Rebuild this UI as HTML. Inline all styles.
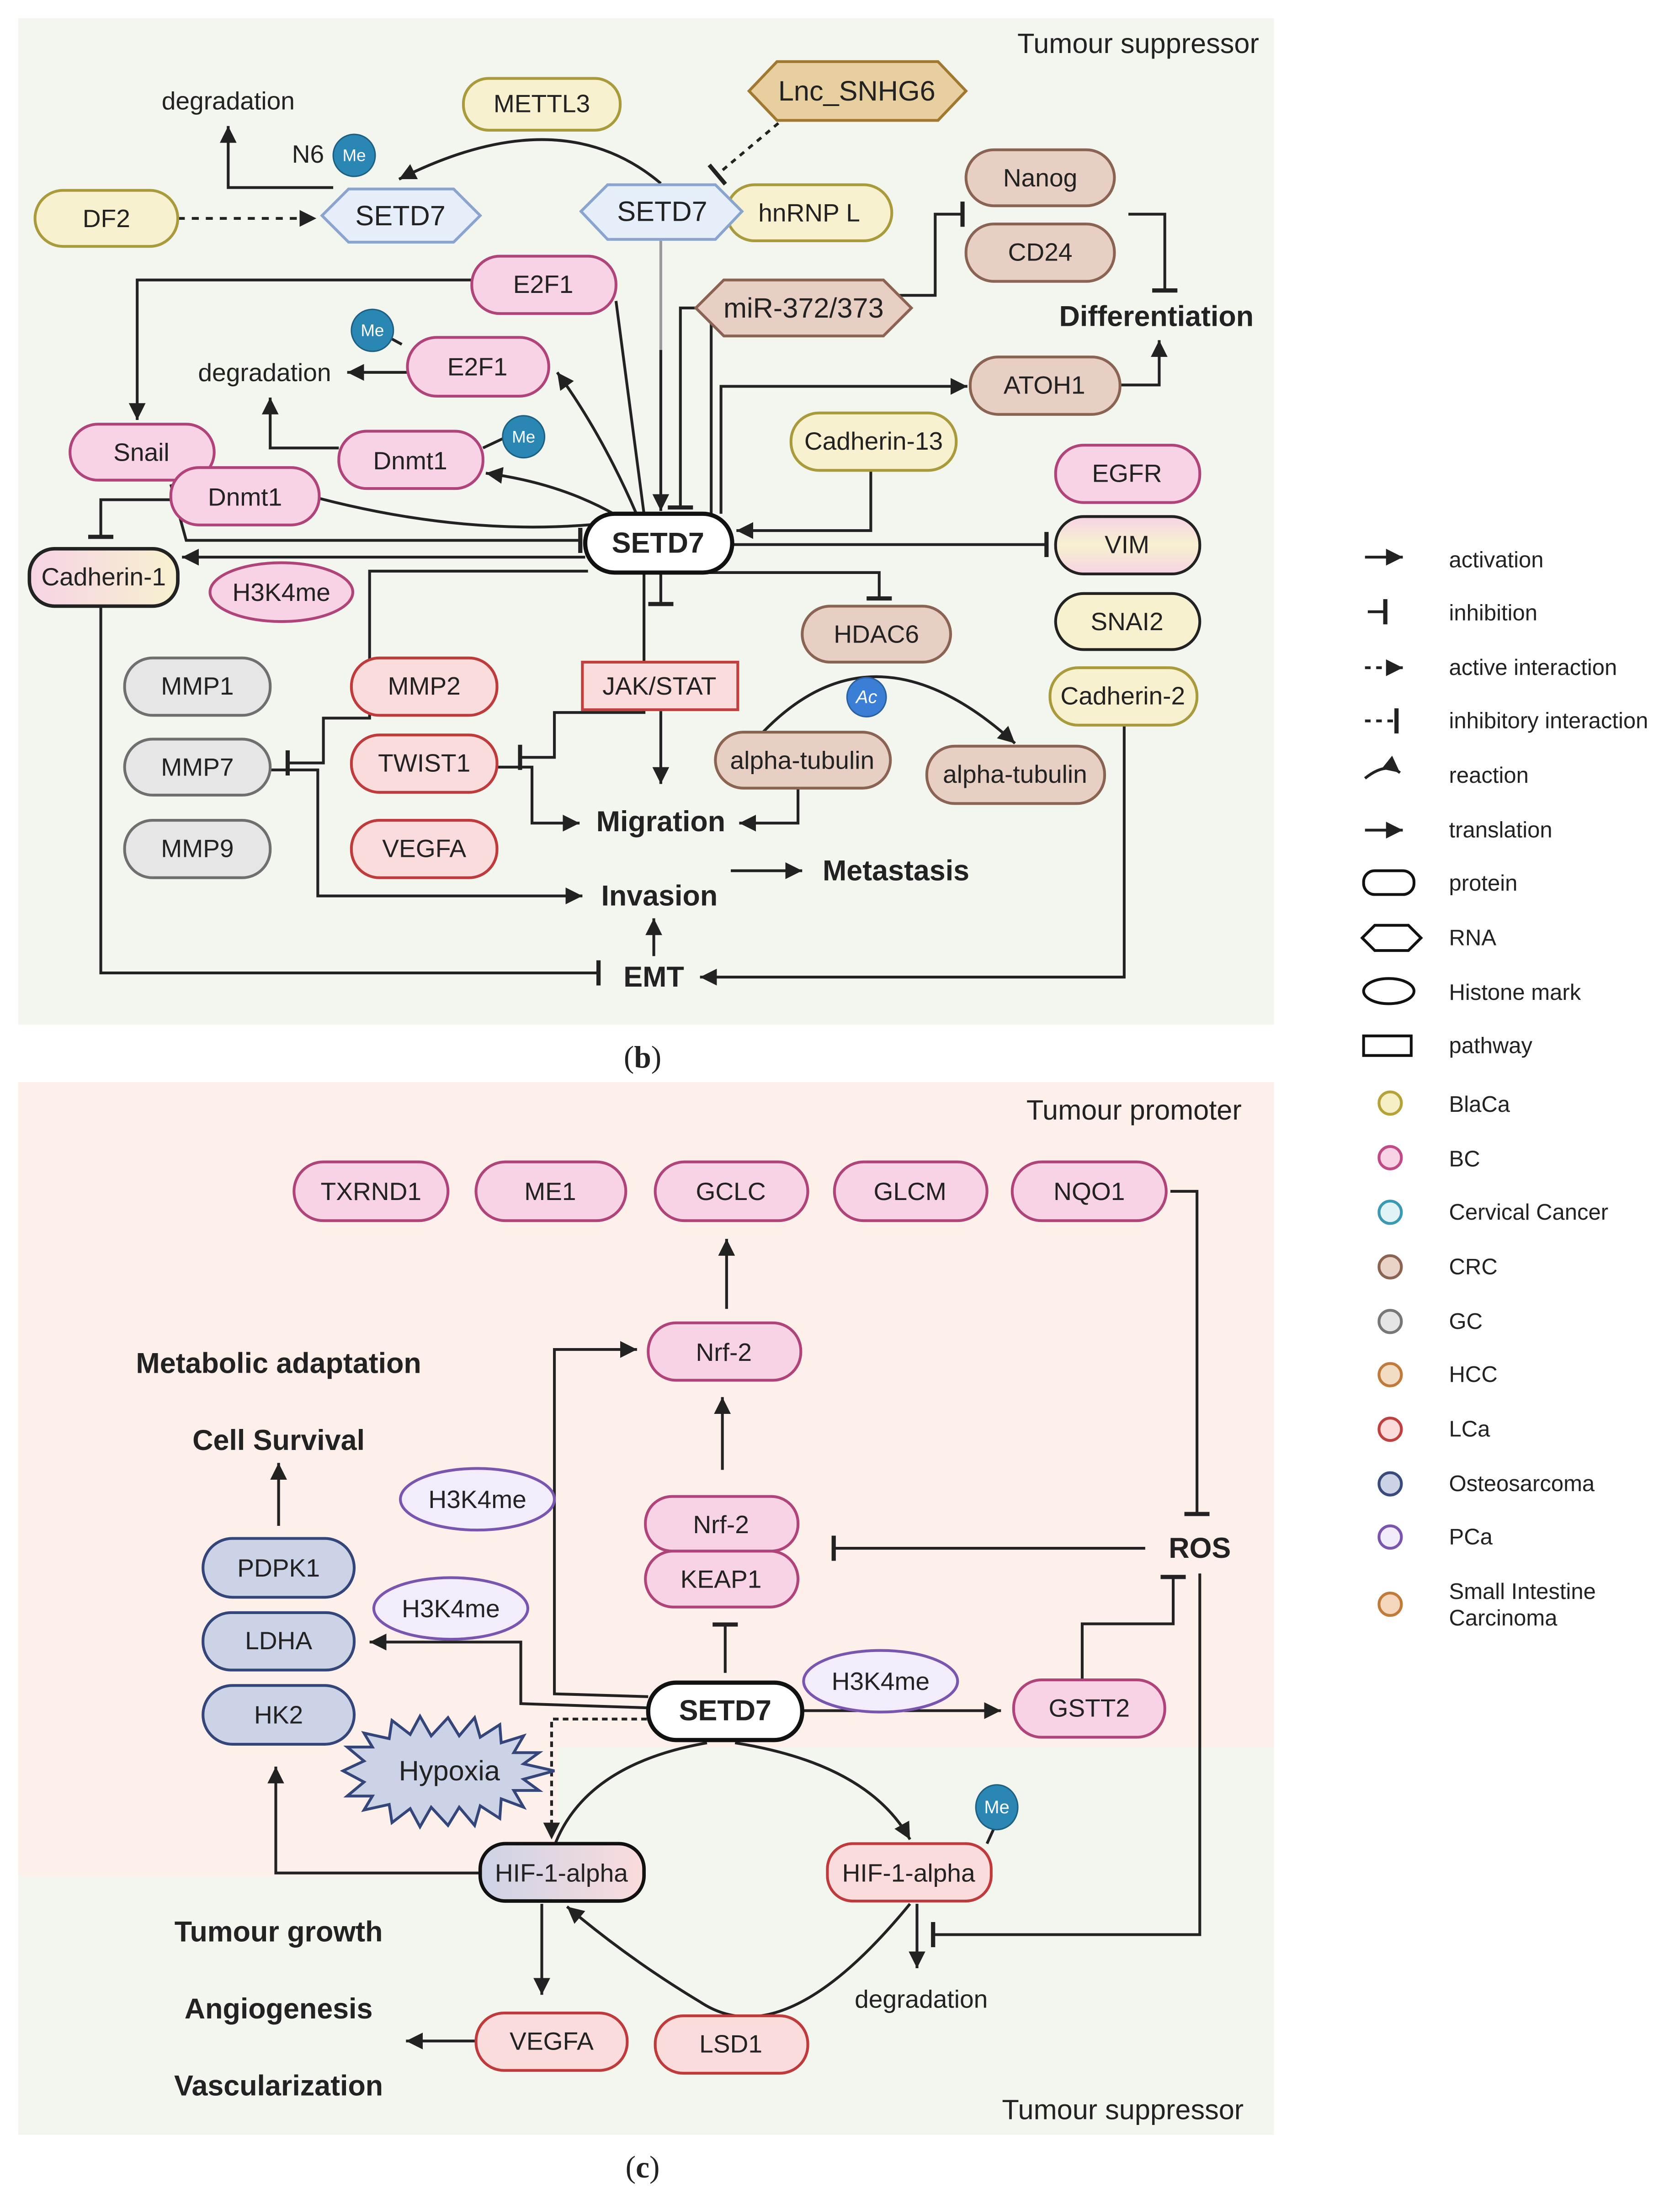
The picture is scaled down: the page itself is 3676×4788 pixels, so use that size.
<!DOCTYPE html>
<html><head><meta charset="utf-8"><style>
html,body{margin:0;padding:0;background:#fff}
svg{display:block}
text{font-family:"Liberation Sans",sans-serif;fill:#222}
.n{font-size:18px;text-anchor:middle;dominant-baseline:central}
.b{font-size:20.5px;font-weight:bold;text-anchor:middle;dominant-baseline:central}
.l{font-size:16px;dominant-baseline:central}
.ln{fill:none;stroke:#222;stroke-width:2}
.pk{fill:#f7d3e5;stroke:#b0437a;stroke-width:2}
.ye{fill:#f7f1cf;stroke:#a99a3c;stroke-width:2}
.br{fill:#e7d0c3;stroke:#8a6352;stroke-width:2}
.gy{fill:#e6e6e6;stroke:#6f6f6f;stroke-width:2}
.rd{fill:#fadcdc;stroke:#bf3a3a;stroke-width:2}
.bl{fill:#cdd3e6;stroke:#34457a;stroke-width:2}
.pu{fill:#f2ecfb;stroke:#7a55b0;stroke-width:2}
.st{fill:#fff;stroke:#111;stroke-width:3}
</style></head><body>
<svg width="3676" height="4788" viewBox="0 0 1200 1563" xmlns="http://www.w3.org/2000/svg">
<defs>
<marker id="a" markerUnits="userSpaceOnUse" markerWidth="14" markerHeight="14" refX="12" refY="6" orient="auto"><path d="M0,0 L12,6 L0,12 z" fill="#222"/></marker>
<marker id="t" markerUnits="userSpaceOnUse" markerWidth="4" markerHeight="18" refX="2" refY="9" orient="auto"><rect x="0" y="0" width="3" height="18" fill="#222"/></marker>
<linearGradient id="g1" x1="0" x2="1"><stop offset="0" stop-color="#f7d3e5"/><stop offset="1" stop-color="#f7f1cf"/></linearGradient>
<linearGradient id="g2" x1="0" x2="0" y1="0" y2="1"><stop offset="0" stop-color="#f7d3e5"/><stop offset=".5" stop-color="#f7f1cf"/><stop offset="1" stop-color="#f7d3e5"/></linearGradient>
<linearGradient id="g3" x1="0" x2="1"><stop offset="0" stop-color="#cdd3e6"/><stop offset="1" stop-color="#fadcdc"/></linearGradient>
</defs>
<rect width="1200" height="1563" fill="#fff"/>
<rect x="13" y="13" width="897" height="719" fill="#f3f6ee"/>
<text x="813" y="31" style="font-size:20px" text-anchor="middle" dominant-baseline="central">Tumour suppressor</text>
<text x="459" y="755" style="font-size:22px;font-family:'Liberation Serif',serif" text-anchor="middle" dominant-baseline="central">(<tspan font-weight="bold">b</tspan>)</text>

<path class="ln" d="M472,131 Q400,70 285,128" marker-end="url(#a)"/>
<path class="ln" d="M556,88 L512,125" stroke-dasharray="4,4" marker-end="url(#t)"/>
<path class="ln" d="M127,156 L226,156" stroke-dasharray="5,5" marker-end="url(#a)"/>
<path class="ln" d="M238,134 L163,134 L163,90" marker-end="url(#a)"/>
<path d="M472,172 L472,365" stroke="#999" stroke-width="2" fill="none"/>
<path class="ln" d="M472,250 L472,365" marker-end="url(#a)"/>
<path class="ln" d="M440,215 L460,367"/>
<path class="ln" d="M337,200 L98,200 L98,300" marker-end="url(#a)"/>
<path class="ln" d="M455,368 Q430,310 398,266" marker-end="url(#a)"/>
<path class="ln" d="M291,266 L248,266" marker-end="url(#a)"/>
<path class="ln" d="M242,320 L193,320 L193,284" marker-end="url(#a)"/>
<path class="ln" d="M440,368 Q400,345 347,338" marker-end="url(#a)"/>
<path class="ln" d="M228,356 Q340,385 440,373"/>
<path class="ln" d="M345,320 L362,312"/>
<path class="ln" d="M287,246 L276,240"/>
<path class="ln" d="M122,346 L133,386 L415,386" marker-end="url(#t)"/>
<path class="ln" d="M122,357 L72,357 L72,384" marker-end="url(#t)"/>
<path class="ln" d="M418,398 L130,398" marker-end="url(#a)"/>
<path class="ln" d="M497,220 L486,220 L486,363" marker-end="url(#t)"/>
<path class="ln" d="M508,367 L508,211 L668,211 L668,153 L688,153" marker-end="url(#t)"/>
<path class="ln" d="M515,367 L515,276 L691,276" marker-end="url(#a)"/>
<path class="ln" d="M800,275 L828,275 L828,243" marker-end="url(#a)"/>
<path class="ln" d="M806,153 L832,153 L832,208" marker-end="url(#t)"/>
<path class="ln" d="M622,336 L622,379 L526,379" marker-end="url(#a)"/>
<path class="ln" d="M523,389 L748,389" marker-end="url(#t)"/>
<path class="ln" d="M505,409 L628,409 L628,428" marker-end="url(#t)"/>
<path class="ln" d="M472,410 L472,432" marker-end="url(#t)"/>
<path class="ln" d="M472,508 L472,560" marker-end="url(#a)"/>
<path class="ln" d="M420,408 L264,408 L264,513 L231,513 L231,545 L205,545" marker-end="url(#t)"/>
<path class="ln" d="M460,410 L460,509 L396,509 L396,541 L371,541" marker-end="url(#t)"/>
<path class="ln" d="M355,548 L380,548 L380,588 L414,588" marker-end="url(#a)"/>
<path class="ln" d="M193,550 L227,550 L227,640 L416,640" marker-end="url(#a)"/>
<path class="ln" d="M570,563 L570,588 L528,588" marker-end="url(#a)"/>
<path class="ln" d="M545,523 Q625,440 725,531" marker-end="url(#a)"/>
<path class="ln" d="M522,622 L573,622" marker-end="url(#a)"/>
<path class="ln" d="M467,683 L467,656" marker-end="url(#a)"/>
<path class="ln" d="M72,433 L72,695 L428,695" marker-end="url(#t)"/>
<path class="ln" d="M803,518 L803,698 L500,698" marker-end="url(#a)"/>

<text class="n" x="163" y="72">degradation</text>
<text class="n" x="220" y="110" style="font-size:18px">N6</text>
<circle cx="253" cy="111" r="15" fill="#2a86b3" stroke="#1d5f80"/><text class="n" x="253" y="111" style="font-size:12px;fill:#fff">Me</text>
<rect class="ye" x="331" y="56" width="112" height="37" rx="18"/><text class="n" x="387" y="74">METTL3</text>
<polygon class="br" points="535,65 555,44 670,44 690,65 670,86 555,86" style="fill:#e8cfa0;stroke:#a0782e"/><text class="n" x="612" y="65" style="font-size:20px">Lnc_SNHG6</text>
<rect class="ye" x="25" y="136" width="102" height="40" rx="20"/><text class="n" x="76" y="156">DF2</text>
<polygon points="230,154 249,135 324,135 343,154 324,173 249,173" fill="#e6eefa" stroke="#8aa4d0" stroke-width="2"/><text class="n" x="286" y="154" style="font-size:20px">SETD7</text>
<rect class="ye" x="519" y="132" width="118" height="40" rx="20"/><text class="n" x="578" y="152">hnRNP L</text>
<polygon points="415,151 434,132 511,132 530,151 511,171 434,171" fill="#e6eefa" stroke="#8aa4d0" stroke-width="2"/><text class="n" x="473" y="151" style="font-size:20px">SETD7</text>
<rect class="br" x="690" y="107" width="106" height="40" rx="20"/><text class="n" x="743" y="127">Nanog</text>
<rect class="br" x="690" y="160" width="106" height="41" rx="20"/><text class="n" x="743" y="180">CD24</text>
<text class="b" x="826" y="226">Differentiation</text>
<rect class="pk" x="337" y="183" width="103" height="41" rx="20"/><text class="n" x="388" y="203">E2F1</text>
<polygon class="br" points="497,220 517,200 631,200 651,220 631,240 517,240"/><text class="n" x="574" y="220" style="font-size:20px">miR-372/373</text>
<circle cx="266" cy="236" r="15" fill="#2a86b3" stroke="#1d5f80"/><text class="n" x="266" y="236" style="font-size:12px;fill:#fff">Me</text>
<text class="n" x="189" y="266">degradation</text>
<rect class="pk" x="291" y="241" width="101" height="42" rx="21"/><text class="n" x="341" y="262">E2F1</text>
<rect class="br" x="693" y="255" width="107" height="41" rx="20"/><text class="n" x="746" y="275">ATOH1</text>
<rect class="pk" x="50" y="303" width="103" height="40" rx="20"/><text class="n" x="101" y="323">Snail</text>
<rect class="pk" x="122" y="334" width="106" height="41" rx="20"/><text class="n" x="175" y="355">Dnmt1</text>
<rect class="pk" x="242" y="308" width="103" height="41" rx="20"/><text class="n" x="293" y="329">Dnmt1</text>
<circle cx="374" cy="312" r="15" fill="#2a86b3" stroke="#1d5f80"/><text class="n" x="374" y="312" style="font-size:12px;fill:#fff">Me</text>
<rect class="ye" x="565" y="295" width="118" height="41" rx="20"/><text class="n" x="624" y="315">Cadherin-13</text>
<rect class="pk" x="754" y="318" width="103" height="41" rx="20"/><text class="n" x="805" y="338">EGFR</text>
<rect x="754" y="369" width="103" height="41" rx="20" fill="url(#g2)" stroke="#222" stroke-width="2"/><text class="n" x="805" y="389">VIM</text>
<rect x="754" y="424" width="103" height="40" rx="20" fill="#f7f1cf" stroke="#222" stroke-width="2"/><text class="n" x="805" y="444">SNAI2</text>
<rect class="ye" x="750" y="477" width="105" height="41" rx="20"/><text class="n" x="802" y="497">Cadherin-2</text>
<rect class="st" x="418" y="367" width="105" height="42" rx="21"/><text class="b" x="470" y="388">SETD7</text>
<rect x="21" y="392" width="106" height="41" rx="18" fill="url(#g1)" stroke="#222" stroke-width="2.5"/><text class="n" x="74" y="412">Cadherin-1</text>
<ellipse class="pk" cx="201" cy="423" rx="51" ry="21"/><text class="n" x="201" y="423">H3K4me</text>
<rect class="br" x="573" y="433" width="106" height="40" rx="20"/><text class="n" x="626" y="453">HDAC6</text>
<rect x="416" y="473" width="111" height="34" fill="#fadcdc" stroke="#c04040" stroke-width="2"/><text class="n" x="471" y="490">JAK/STAT</text>
<rect class="gy" x="89" y="470" width="104" height="41" rx="20"/><text class="n" x="141" y="490">MMP1</text>
<rect class="gy" x="89" y="528" width="104" height="40" rx="20"/><text class="n" x="141" y="548">MMP7</text>
<rect class="gy" x="89" y="586" width="104" height="41" rx="20"/><text class="n" x="141" y="606">MMP9</text>
<rect class="rd" x="251" y="470" width="104" height="41" rx="20"/><text class="n" x="303" y="490">MMP2</text>
<rect class="rd" x="251" y="525" width="104" height="41" rx="20"/><text class="n" x="303" y="545">TWIST1</text>
<rect class="rd" x="251" y="586" width="104" height="41" rx="20"/><text class="n" x="303" y="606">VEGFA</text>
<rect class="br" x="511" y="523" width="125" height="40" rx="20"/><text class="n" x="573" y="543">alpha-tubulin</text>
<circle cx="619" cy="498" r="14" fill="#3a7fd5" stroke="#2a5fa0"/><text class="n" x="619" y="498" style="font-size:13px;fill:#fff;font-style:italic">Ac</text>
<rect class="br" x="662" y="533" width="127" height="41" rx="20"/><text class="n" x="725" y="553">alpha-tubulin</text>
<text class="b" x="472" y="587">Migration</text>
<text class="b" x="471" y="640">Invasion</text>
<text class="b" x="640" y="622">Metastasis</text>
<text class="b" x="467" y="698">EMT</text>

<g>
<path class="ln" d="M975,398 L1002,398" marker-end="url(#a)"/><text class="l" x="1035" y="400">activation</text>
<path class="ln" d="M977,437 L990,437" marker-end="url(#t)"/><text class="l" x="1035" y="438">inhibition</text>
<path class="ln" d="M975,477 L1002,477" stroke-dasharray="4,4" marker-end="url(#a)"/><text class="l" x="1035" y="477">active interaction</text>
<path class="ln" d="M975,515 L998,515" stroke-dasharray="4,4" marker-end="url(#t)"/><text class="l" x="1035" y="515">inhibitory interaction</text>
<path class="ln" d="M975,556 Q990,544 1000,552" marker-end="url(#a)"/><text class="l" x="1035" y="554">reaction</text>
<path class="ln" d="M975,593 L1002,593" marker-end="url(#a)"/><text class="l" x="1035" y="593">translation</text>
<rect x="974" y="622" width="36" height="17" rx="8" fill="#fff" stroke="#111" stroke-width="2"/><text class="l" x="1035" y="631">protein</text>
<polygon points="973,670 982,661 1006,661 1015,670 1006,679 982,679" fill="#fff" stroke="#111" stroke-width="2"/><text class="l" x="1035" y="670">RNA</text>
<ellipse cx="992" cy="708" rx="18" ry="9" fill="#fff" stroke="#111" stroke-width="2"/><text class="l" x="1035" y="709">Histone mark</text>
<rect x="974" y="740" width="34" height="14" fill="#fff" stroke="#111" stroke-width="2"/><text class="l" x="1035" y="747">pathway</text>
<circle cx="993" cy="788" r="8" fill="#f6efc6" stroke="#b5a33a" stroke-width="2"/><text class="l" x="1035" y="789">BlaCa</text>
<circle cx="993" cy="827" r="8" fill="#f7d3e5" stroke="#c04a86" stroke-width="2"/><text class="l" x="1035" y="828">BC</text>
<circle cx="993" cy="866" r="8" fill="#e2f3f6" stroke="#3a9ab0" stroke-width="2"/><text class="l" x="1035" y="866">Cervical Cancer</text>
<circle cx="993" cy="905" r="8" fill="#e8d3c6" stroke="#8a6352" stroke-width="2"/><text class="l" x="1035" y="905">CRC</text>
<circle cx="993" cy="944" r="8" fill="#e5e5e5" stroke="#777" stroke-width="2"/><text class="l" x="1035" y="944">GC</text>
<circle cx="993" cy="982" r="8" fill="#f3dcc4" stroke="#c07a3a" stroke-width="2"/><text class="l" x="1035" y="982">HCC</text>
<circle cx="993" cy="1021" r="8" fill="#fadada" stroke="#c04040" stroke-width="2"/><text class="l" x="1035" y="1021">LCa</text>
<circle cx="993" cy="1060" r="8" fill="#cdd3e6" stroke="#3a4a7a" stroke-width="2"/><text class="l" x="1035" y="1060">Osteosarcoma</text>
<circle cx="993" cy="1098" r="8" fill="#f1ebfa" stroke="#7a55b0" stroke-width="2"/><text class="l" x="1035" y="1098">PCa</text>
<circle cx="993" cy="1146" r="8" fill="#f3d6bb" stroke="#c07a3a" stroke-width="2"/><text class="l" x="1035" y="1137">Small Intestine</text><text class="l" x="1035" y="1156">Carcinoma</text>
</g>

<rect x="13" y="773" width="897" height="752" fill="#f3f6ee"/>
<path d="M13,773 H910 V1248 H398 V1340 H13 Z" fill="#fdefea"/>
<text x="810" y="793" style="font-size:20px" text-anchor="middle" dominant-baseline="central">Tumour promoter</text>
<text x="802" y="1507" style="font-size:20px" text-anchor="middle" dominant-baseline="central">Tumour suppressor</text>
<text x="459" y="1548" style="font-size:22px;font-family:'Liberation Serif',serif" text-anchor="middle" dominant-baseline="central">(<tspan font-weight="bold">c</tspan>)</text>

<path class="ln" d="M519,935 L519,885" marker-end="url(#a)"/>
<path class="ln" d="M516,1050 L516,998" marker-end="url(#a)"/>
<path class="ln" d="M518,1195 L518,1160" marker-end="url(#t)"/>
<path class="ln" d="M463,1212 L396,1210 L396,964 L455,964" marker-end="url(#a)"/>
<path class="ln" d="M463,1220 L372,1217 L372,1173 L264,1173" marker-end="url(#a)"/>
<path class="ln" d="M462,1228 L394,1228 L394,1314" stroke-dasharray="4,3" marker-end="url(#a)"/>
<path class="ln" d="M573,1222 L715,1222" marker-end="url(#a)"/>
<path class="ln" d="M773,1200 L773,1160 L838,1160 L838,1126" marker-end="url(#t)"/>
<path class="ln" d="M836,851 L855,851 L855,1082" marker-end="url(#t)"/>
<path class="ln" d="M818,1106 L595,1106" marker-end="url(#t)"/>
<path class="ln" d="M857,1124 L857,1382 L666,1382" marker-end="url(#t)"/>
<path class="ln" d="M505,1245 Q420,1260 397,1316"/>
<path class="ln" d="M525,1245 Q620,1260 650,1314" marker-end="url(#a)"/>
<path class="ln" d="M655,1360 L655,1406" marker-end="url(#a)"/>
<path class="ln" d="M650,1360 Q560,1470 500,1430 Q450,1400 405,1362" marker-end="url(#a)"/>
<path class="ln" d="M705,1317 L710,1306"/>
<path class="ln" d="M387,1360 L387,1425" marker-end="url(#a)"/>
<path class="ln" d="M340,1458 L290,1458" marker-end="url(#a)"/>
<path class="ln" d="M343,1338 L197,1338 L197,1262" marker-end="url(#a)"/>
<path class="ln" d="M199,1090 L199,1045" marker-end="url(#a)"/>

<rect class="pk" x="210" y="830" width="110" height="42" rx="21"/><text class="n" x="265" y="851">TXRND1</text>
<rect class="pk" x="340" y="830" width="107" height="42" rx="21"/><text class="n" x="393" y="851">ME1</text>
<rect class="pk" x="468" y="830" width="109" height="42" rx="21"/><text class="n" x="522" y="851">GCLC</text>
<rect class="pk" x="596" y="830" width="109" height="42" rx="21"/><text class="n" x="650" y="851">GLCM</text>
<rect class="pk" x="723" y="830" width="110" height="42" rx="21"/><text class="n" x="778" y="851">NQO1</text>
<rect class="pk" x="463" y="945" width="109" height="41" rx="20"/><text class="n" x="517" y="966">Nrf-2</text>
<text class="b" x="199" y="974">Metabolic adaptation</text>
<text class="b" x="199" y="1029">Cell Survival</text>
<rect class="pk" x="461" y="1108" width="109" height="40" rx="20"/><text class="n" x="515" y="1128">KEAP1</text>
<rect class="pk" x="461" y="1069" width="109" height="39" rx="19"/><text class="n" x="515" y="1089">Nrf-2</text>
<ellipse class="pu" cx="341" cy="1071" rx="55" ry="22"/><text class="n" x="341" y="1071">H3K4me</text>
<ellipse class="pu" cx="322" cy="1149" rx="55" ry="22"/><text class="n" x="322" y="1149">H3K4me</text>
<ellipse class="pu" cx="629" cy="1201" rx="55" ry="22"/><text class="n" x="629" y="1201">H3K4me</text>
<rect class="bl" x="145" y="1099" width="108" height="42" rx="21"/><text class="n" x="199" y="1120">PDPK1</text>
<rect class="bl" x="145" y="1152" width="108" height="41" rx="20"/><text class="n" x="199" y="1172">LDHA</text>
<rect class="bl" x="145" y="1204" width="108" height="42" rx="21"/><text class="n" x="199" y="1225">HK2</text>
<text class="b" x="857" y="1106">ROS</text>
<rect class="pk" x="724" y="1200" width="108" height="41" rx="20"/><text class="n" x="778" y="1220">GSTT2</text>
<rect class="st" x="463" y="1202" width="110" height="41" rx="20"/><text class="b" x="518" y="1222">SETD7</text>
<polygon fill="#cdd3e6" stroke="#34457a" stroke-width="2" points="245,1265 260,1258 248,1248 266,1248 260,1238 278,1242 280,1229 293,1239 300,1226 308,1240 320,1227 328,1240 339,1227 343,1241 357,1232 358,1245 374,1240 367,1252 385,1252 374,1260 396,1265 374,1271 385,1279 367,1279 374,1291 358,1285 357,1299 343,1290 339,1304 328,1291 320,1304 308,1291 300,1305 293,1292 280,1302 278,1289 260,1293 266,1283 248,1283 260,1273"/>
<text class="n" x="321" y="1265" style="font-size:20px">Hypoxia</text>
<rect x="343" y="1317" width="117" height="41" rx="18" fill="url(#g3)" stroke="#111" stroke-width="2.5"/><text class="n" x="401" y="1338">HIF-1-alpha</text>
<rect class="rd" x="591" y="1317" width="117" height="41" rx="18"/><text class="n" x="649" y="1338">HIF-1-alpha</text>
<ellipse cx="712" cy="1291" rx="15" ry="16" fill="#2a86b3" stroke="#1d5f80"/><text class="n" x="712" y="1291" style="font-size:13px;fill:#fff">Me</text>
<text class="b" x="199" y="1380">Tumour growth</text>
<text class="b" x="199" y="1435">Angiogenesis</text>
<text class="b" x="199" y="1490">Vascularization</text>
<rect class="rd" x="340" y="1438" width="108" height="41" rx="20"/><text class="n" x="394" y="1458">VEGFA</text>
<rect class="rd" x="468" y="1440" width="109" height="41" rx="20"/><text class="n" x="522" y="1460">LSD1</text>
<text class="n" x="658" y="1428">degradation</text>
</svg>
</body></html>
